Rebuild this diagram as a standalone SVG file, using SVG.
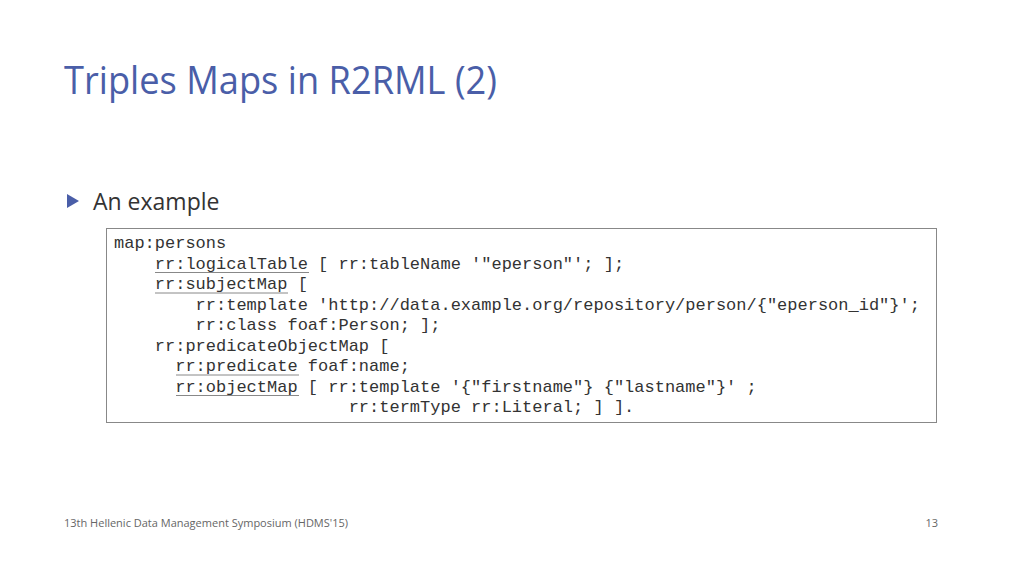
<svg xmlns="http://www.w3.org/2000/svg" width="1024" height="576" viewBox="0 0 1024 576">
<style>
.c{font-family:"Liberation Mono",monospace;font-size:17px;fill:#333;white-space:pre}
.u{stroke:#888;stroke-width:1}
.f{font-family:"Open Sans","Liberation Sans",sans-serif;font-size:11px;fill:#666}
</style>
<rect width="1024" height="576" fill="#fff"/>
<text x="64" y="94" font-family="Open Sans, Liberation Sans, sans-serif" font-size="38" fill="#4a5ea8" textLength="433" lengthAdjust="spacingAndGlyphs">Triples Maps in R2RML (2)</text>
<polygon points="67,194 79,201 67,208" fill="#4a5ea8"/>
<text x="93" y="210" font-family="Open Sans, Liberation Sans, sans-serif" font-size="23" fill="#333">An example</text>
<rect x="106.5" y="228.5" width="830" height="194" fill="#fff" stroke="#888" stroke-width="1"/>
<text class="c" x="114" y="248">map:persons</text>
<text class="c" x="114" y="268.5">    rr:logicalTable [ rr:tableName '"eperson"'; ];</text>
<text class="c" x="114" y="289">    rr:subjectMap [</text>
<text class="c" x="114" y="309.5">        rr:template 'http://data.example.org/repository/person/{"eperson_id"}';</text>
<text class="c" x="114" y="330">        rr:class foaf:Person; ];</text>
<text class="c" x="114" y="350.5">    rr:predicateObjectMap [</text>
<text class="c" x="114" y="371">      rr:predicate foaf:name;</text>
<text class="c" x="114" y="391.5">      rr:objectMap [ rr:template '{"firstname"} {"lastname"}' ;</text>
<text class="c" x="114" y="412">                       rr:termType rr:Literal; ] ].</text>
<g class="u">
<line x1="155" y1="272.5" x2="309" y2="272.5"/>
<line x1="155" y1="293" x2="288" y2="293"/>
<line x1="176" y1="375" x2="299" y2="375"/>
<line x1="176" y1="395.5" x2="299" y2="395.5"/>
</g>
<text class="f" x="64" y="527">13th Hellenic Data Management Symposium (HDMS'15)</text>
<text class="f" x="938" y="527" text-anchor="end">13</text>
</svg>
